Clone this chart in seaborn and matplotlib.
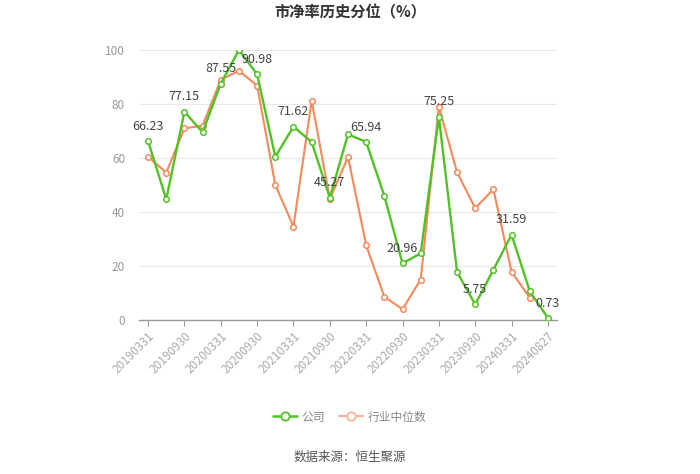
import numpy as np
import pandas as pd
import matplotlib
matplotlib.use("Agg")
import matplotlib.pyplot as plt
import seaborn as sns
from matplotlib.lines import Line2D

dates = ["20190331", "20190630", "20190930", "20191231", "20200331", "20200630",
         "20200930", "20201231", "20210331", "20210630", "20210930", "20211231",
         "20220331", "20220630", "20220930", "20221231", "20230331", "20230630",
         "20230930", "20231231", "20240331", "20240630", "20240827"]
company = [66.23, 44.7, 77.15, 69.5, 87.55, 100.0, 90.98, 60.5, 71.62, 65.9,
           45.27, 68.8, 65.94, 45.9, 20.96, 24.7, 75.25, 17.8, 5.75, 18.6,
           31.59, 10.7, 0.73]
industry = [60.5, 54.6, 71.0, 72.0, 89.0, 92.3, 86.8, 50.0, 34.6, 81.2,
            44.8, 60.4, 27.7, 8.6, 4.0, 15.0, 79.0, 54.7, 41.4, 48.4,
            17.8, 8.3, np.nan]
yticks = [0, 20, 40, 60, 80, 100]

sns.set_theme(style="white")
plt.rcParams['font.family'] = ['Noto Sans CJK SC', 'DejaVu Sans']

green = "#52c125"
orange = "#f5895a"

fig = plt.figure(figsize=(7, 4.74), dpi=100)
ax = fig.add_axes([139/700, 1-320/474, (557-139)/700, 270/474])

idx = np.arange(len(dates))
df = pd.DataFrame({"i": idx, "公司": company, "行业中位数": industry})

sns.lineplot(data=df, x="i", y="行业中位数", ax=ax, color=orange, linewidth=1.5,
             marker="o", markersize=4, markerfacecolor="white",
             markeredgecolor=orange, markeredgewidth=1.1, zorder=3)
sns.lineplot(data=df, x="i", y="公司", ax=ax, color=green, linewidth=1.7,
             marker="o", markersize=4, markerfacecolor="white",
             markeredgecolor=green, markeredgewidth=1.1, zorder=4)

for i in range(0, len(dates), 2):
    ax.annotate(f"{company[i]:.2f}", (i, company[i]), xytext=(0, 6),
                textcoords="offset points", ha="center", va="bottom",
                fontsize=9, color="#444444", zorder=5)

ax.set_xlim(-0.5, len(dates) - 0.5)
ax.set_ylim(0, 100)
ax.set_yticks(yticks)
ax.set_yticklabels([str(v) for v in yticks], fontsize=8.5, color="#999999")
ax.set_xticks(idx[::2])
ax.set_xticklabels(dates[::2], rotation=45, ha="right", rotation_mode="anchor",
                   fontsize=8.5, color="#aaaaaa")
ax.set_xlabel("")
ax.set_ylabel("")
ax.grid(axis="y", color="#e8e8e8", linewidth=0.8)
ax.set_axisbelow(True)
for s in ["top", "right", "left"]:
    ax.spines[s].set_visible(False)
ax.spines["bottom"].set_color("#999999")
ax.spines["bottom"].set_linewidth(1)
ax.tick_params(axis="x", which="both", bottom=True, length=4, width=0.8,
               color="#999999", pad=3)
ax.tick_params(axis="y", length=0, pad=10)

if ax.get_legend():
    ax.get_legend().remove()

handles = [
    Line2D([0], [0], color=green, lw=1.8, marker="o", markersize=6,
           markerfacecolor="white", markeredgecolor=green, markeredgewidth=1.3),
    Line2D([0], [0], color="#f5b499", lw=1.6, marker="o", markersize=6,
           markerfacecolor="white", markeredgecolor="#f5b499", markeredgewidth=1.3),
]
leg = fig.legend(handles, ["公司", "行业中位数"], loc="center",
                 bbox_to_anchor=(0.5, 1 - 417/474), ncol=2, frameon=False,
                 fontsize=8.5, handlelength=2.0, columnspacing=1.2, handletextpad=0.4)
for t in leg.get_texts():
    t.set_color("#888888")

fig.text(0.5, 1 - 12/474, "市净率历史分位（%）", ha="center", va="center",
         fontsize=11, fontweight="bold", color="#333333")
fig.text(0.5, 1 - 457/474, "数据来源：恒生聚源", ha="center", va="center",
         fontsize=9, color="#555555")

fig.savefig("out.png", dpi=100)
